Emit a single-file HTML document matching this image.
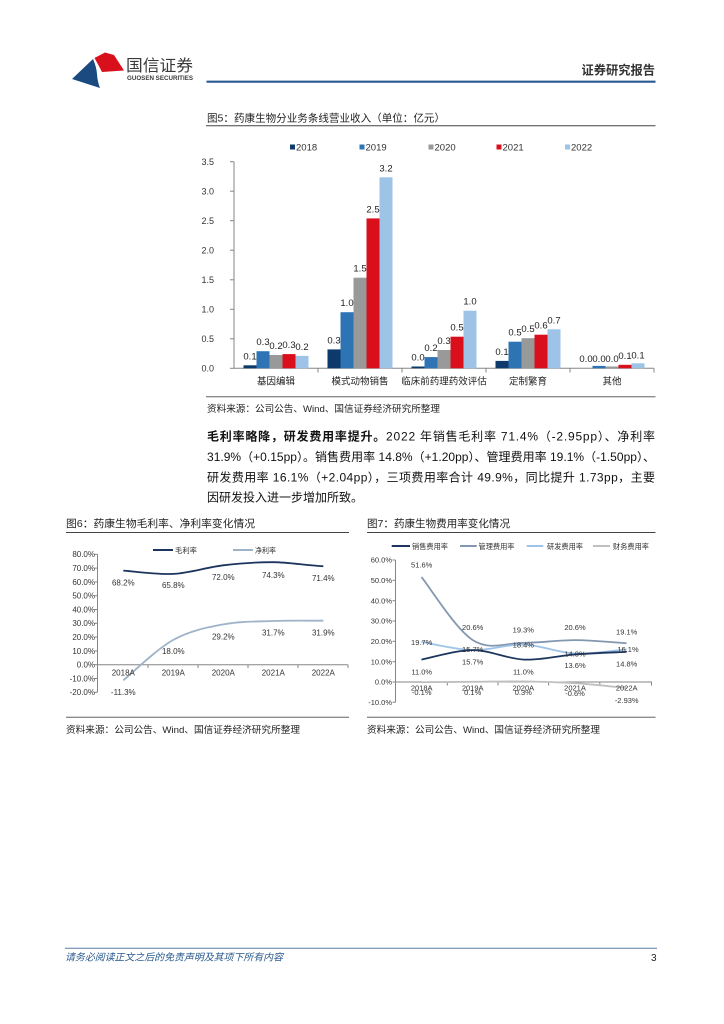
<!DOCTYPE html>
<html>
<head>
<meta charset="utf-8">
<style>
html,body{margin:0;padding:0;background:#fff;}
svg{display:block;}
text{font-family:"Liberation Sans","Noto Sans CJK SC",sans-serif;}
</style>
</head>
<body>
<svg width="724" height="1024" viewBox="0 0 724 1024" xmlns="http://www.w3.org/2000/svg">
<rect width="724" height="1024" fill="#fff"/>

<!-- Header logo -->
<path d="M72,79 L93,59 Q96.5,67 97,74 Q97.5,82 100,88 Z" fill="#1a4a80"/>
<path d="M94.5,58 L105,52.5 L114,55 L124,70.5 L102,72 Q98.5,65 94.5,58 Z" fill="#d8101c"/>
<text x="126" y="71" font-size="16" fill="#3a3a3a" textLength="67" lengthAdjust="spacingAndGlyphs">国信证券</text>
<text x="127" y="80" font-size="6.5" font-weight="bold" fill="#3a3a3a" textLength="66" lengthAdjust="spacingAndGlyphs">GUOSEN SECURITIES</text>
<text x="581.5" y="74.5" font-size="12.5" font-weight="bold" fill="#333" textLength="73.5" lengthAdjust="spacingAndGlyphs">证券研究报告</text>
<line x1="206.5" y1="81.7" x2="655.5" y2="81.7" stroke="#285a8f" stroke-width="2.2"/>

<!-- Figure 5 title -->
<text x="207" y="121.5" font-size="10.5" fill="#222" textLength="238" lengthAdjust="spacingAndGlyphs">图5：药康生物分业务条线营业收入（单位：亿元）</text>
<line x1="206" y1="125.7" x2="655.5" y2="125.7" stroke="#444" stroke-width="1"/>

<!-- Figure 5 legend -->
<g font-size="9.5" fill="#333">
<rect x="290" y="144.5" width="5" height="5" fill="#0e3a6b"/><text x="296" y="150.5">2018</text>
<rect x="359.5" y="144.5" width="5" height="5" fill="#2e74b5"/><text x="365.5" y="150.5">2019</text>
<rect x="428.5" y="144.5" width="5" height="5" fill="#999"/><text x="434.5" y="150.5">2020</text>
<rect x="496.5" y="144.5" width="5" height="5" fill="#d9101c"/><text x="502.5" y="150.5">2021</text>
<rect x="565" y="144.5" width="5" height="5" fill="#9dc3e6"/><text x="571" y="150.5">2022</text>
</g>

<!-- Figure 5 axes -->
<g stroke="#868686" stroke-width="1">
<line x1="234" y1="161.7" x2="234" y2="368.3"/>
<line x1="234" y1="368.3" x2="654" y2="368.3"/>
<line x1="230" y1="161.7" x2="234" y2="161.7"/>
<line x1="230" y1="191.2" x2="234" y2="191.2"/>
<line x1="230" y1="220.7" x2="234" y2="220.7"/>
<line x1="230" y1="250.2" x2="234" y2="250.2"/>
<line x1="230" y1="279.8" x2="234" y2="279.8"/>
<line x1="230" y1="309.3" x2="234" y2="309.3"/>
<line x1="230" y1="338.8" x2="234" y2="338.8"/>
<line x1="230" y1="368.3" x2="234" y2="368.3"/>
<line x1="318" y1="368.3" x2="318" y2="372.5"/>
<line x1="402" y1="368.3" x2="402" y2="372.5"/>
<line x1="486" y1="368.3" x2="486" y2="372.5"/>
<line x1="570" y1="368.3" x2="570" y2="372.5"/>
<line x1="654" y1="368.3" x2="654" y2="372.5"/>
</g>
<g font-size="9" fill="#333" text-anchor="end">
<text x="214" y="165">3.5</text>
<text x="214" y="194.5">3.0</text>
<text x="214" y="224">2.5</text>
<text x="214" y="253.5">2.0</text>
<text x="214" y="283">1.5</text>
<text x="214" y="312.6">1.0</text>
<text x="214" y="342.1">0.5</text>
<text x="214" y="371.6">0.0</text>
</g>

<!-- Figure 5 bars -->
<g>
<rect x="243.5" y="365.3" width="13" height="3" fill="#0e3a6b"/>
<rect x="256.5" y="351.2" width="13" height="17.1" fill="#2e74b5"/>
<rect x="269.5" y="355.0" width="13" height="13.3" fill="#999"/>
<rect x="282.5" y="354.1" width="13" height="14.2" fill="#d9101c"/>
<rect x="295.5" y="355.9" width="13" height="12.4" fill="#9dc3e6"/>

<rect x="327.5" y="349.4" width="13" height="18.9" fill="#0e3a6b"/>
<rect x="340.5" y="312.2" width="13" height="56.1" fill="#2e74b5"/>
<rect x="353.5" y="277.7" width="13" height="90.6" fill="#999"/>
<rect x="366.5" y="218.4" width="13" height="149.9" fill="#d9101c"/>
<rect x="379.5" y="177.3" width="13" height="191.0" fill="#9dc3e6"/>

<rect x="411.5" y="366.5" width="13" height="1.8" fill="#0e3a6b"/>
<rect x="424.5" y="357.1" width="13" height="11.2" fill="#2e74b5"/>
<rect x="437.5" y="350.0" width="13" height="18.3" fill="#999"/>
<rect x="450.5" y="336.7" width="13" height="31.6" fill="#d9101c"/>
<rect x="463.5" y="310.7" width="13" height="57.6" fill="#9dc3e6"/>

<rect x="495.5" y="360.9" width="13" height="7.4" fill="#0e3a6b"/>
<rect x="508.5" y="341.7" width="13" height="26.6" fill="#2e74b5"/>
<rect x="521.5" y="338.2" width="13" height="30.1" fill="#999"/>
<rect x="534.5" y="334.7" width="13" height="33.6" fill="#d9101c"/>
<rect x="547.5" y="329.3" width="13" height="39.0" fill="#9dc3e6"/>

<rect x="592.5" y="365.9" width="13" height="2.4" fill="#2e74b5"/>
<rect x="605.5" y="366.5" width="13" height="1.8" fill="#999"/>
<rect x="618.5" y="364.8" width="13" height="3.5" fill="#d9101c"/>
<rect x="631.5" y="363.3" width="13" height="5.0" fill="#9dc3e6"/>
</g>
<g font-size="9.5" fill="#222" text-anchor="middle">
<text x="250" y="359.3">0.1</text>
<text x="263" y="345.2">0.3</text>
<text x="276" y="349">0.2</text>
<text x="289" y="348.1">0.3</text>
<text x="302" y="349.9">0.2</text>
<text x="334" y="343.4">0.3</text>
<text x="347" y="306.2">1.0</text>
<text x="360" y="271.7">1.5</text>
<text x="373" y="212.4">2.5</text>
<text x="386" y="171.3">3.2</text>
<text x="418" y="360.5">0.0</text>
<text x="431" y="351.1">0.2</text>
<text x="444" y="344">0.3</text>
<text x="457" y="330.7">0.5</text>
<text x="470" y="304.7">1.0</text>
<text x="502" y="354.9">0.1</text>
<text x="515" y="335.7">0.5</text>
<text x="528" y="332.2">0.5</text>
<text x="541" y="328.7">0.6</text>
<text x="554" y="323.3">0.7</text>
<text x="586" y="361.8">0.0</text>
<text x="599" y="361.8">0.0</text>
<text x="612" y="361.8">0.0</text>
<text x="625" y="359">0.1</text>
<text x="638" y="358.3">0.1</text>
</g>
<g font-size="9.5" fill="#222" text-anchor="middle">
<text x="276" y="384.5">基因编辑</text>
<text x="360" y="384.5">模式动物销售</text>
<text x="444" y="384.5">临床前药理药效评估</text>
<text x="528" y="384.5">定制繁育</text>
<text x="612" y="384.5">其他</text>
</g>
<line x1="206" y1="396.7" x2="655.5" y2="396.7" stroke="#8c8c8c" stroke-width="1.3"/>
<text x="207" y="412" font-size="9.5" fill="#222" textLength="233" lengthAdjust="spacingAndGlyphs">资料来源：公司公告、Wind、国信证券经济研究所整理</text>

<!-- Paragraph -->
<g font-size="12" fill="#111">
<text x="207" y="440.5" textLength="448" lengthAdjust="spacing"><tspan font-weight="bold">毛利率略降，研发费用率提升。</tspan>2022 年销售毛利率 71.4%（-2.95pp）、净利率</text>
<text x="207" y="461" textLength="448" lengthAdjust="spacing">31.9%（+0.15pp）。销售费用率 14.8%（+1.20pp）、管理费用率 19.1%（-1.50pp）、</text>
<text x="207" y="481.5" textLength="448" lengthAdjust="spacing">研发费用率 16.1%（+2.04pp），三项费用率合计 49.9%，同比提升 1.73pp，主要</text>
<text x="207" y="501.5">因研发投入进一步增加所致。</text>
</g>

<!-- Figure 6 -->
<text x="66" y="527" font-size="10.5" fill="#222" textLength="189" lengthAdjust="spacingAndGlyphs">图6：药康生物毛利率、净利率变化情况</text>
<line x1="66" y1="532.5" x2="349" y2="532.5" stroke="#444" stroke-width="1"/>
<line x1="153" y1="550" x2="173" y2="550" stroke="#1c355e" stroke-width="2"/>
<text x="175" y="553" font-size="7.5" fill="#333" textLength="22" lengthAdjust="spacingAndGlyphs">毛利率</text>
<line x1="233" y1="550" x2="253" y2="550" stroke="#9fb3c8" stroke-width="2"/>
<text x="255" y="553" font-size="7.5" fill="#333" textLength="21" lengthAdjust="spacingAndGlyphs">净利率</text>

<g stroke="#868686" stroke-width="1">
<line x1="97.5" y1="554.3" x2="97.5" y2="692.3"/>
<line x1="97.5" y1="664.7" x2="348" y2="664.7"/>
<line x1="94.5" y1="554.3" x2="97.5" y2="554.3"/>
<line x1="94.5" y1="568.1" x2="97.5" y2="568.1"/>
<line x1="94.5" y1="581.9" x2="97.5" y2="581.9"/>
<line x1="94.5" y1="595.7" x2="97.5" y2="595.7"/>
<line x1="94.5" y1="609.5" x2="97.5" y2="609.5"/>
<line x1="94.5" y1="623.3" x2="97.5" y2="623.3"/>
<line x1="94.5" y1="637.1" x2="97.5" y2="637.1"/>
<line x1="94.5" y1="650.9" x2="97.5" y2="650.9"/>
<line x1="94.5" y1="664.7" x2="97.5" y2="664.7"/>
<line x1="94.5" y1="678.5" x2="97.5" y2="678.5"/>
<line x1="94.5" y1="692.3" x2="97.5" y2="692.3"/>
<line x1="148" y1="664.7" x2="148" y2="668"/>
<line x1="198" y1="664.7" x2="198" y2="668"/>
<line x1="248" y1="664.7" x2="248" y2="668"/>
<line x1="298" y1="664.7" x2="298" y2="668"/>
<line x1="348" y1="664.7" x2="348" y2="668"/>
</g>
<g font-size="8" fill="#333" text-anchor="end">
<text x="95" y="557.2">80.0%</text>
<text x="95" y="571">70.0%</text>
<text x="95" y="584.8">60.0%</text>
<text x="95" y="598.6">50.0%</text>
<text x="95" y="612.4">40.0%</text>
<text x="95" y="626.2">30.0%</text>
<text x="95" y="640">20.0%</text>
<text x="95" y="653.8">10.0%</text>
<text x="95" y="667.6">0.0%</text>
<text x="95" y="681.4">-10.0%</text>
<text x="95" y="695.2">-20.0%</text>
</g>
<path d="M123.3,570.6 C131.6,571.15 156.6,574.8 173.3,573.9 C190,573 206.6,567.25 223.3,565.3 C240,563.35 256.6,562.05 273.3,562.2 C290,562.35 306.6,565.53 323.3,566.2" fill="none" stroke="#1c355e" stroke-width="1.8"/>
<path d="M123.3,680.3 C131.6,673.57 156.6,649.2 173.3,639.9 C190,630.58 206.6,627.55 223.3,624.4 C240,621.25 256.6,621.62 273.3,621.0 C290,620.38 306.6,620.75 323.3,620.7" fill="none" stroke="#9fb3c8" stroke-width="1.8"/>
<g font-size="8" fill="#333" text-anchor="middle">
<text x="123.3" y="585.5">68.2%</text>
<text x="173.3" y="587.8">65.8%</text>
<text x="223.3" y="580.1">72.0%</text>
<text x="273.3" y="577.8">74.3%</text>
<text x="323.3" y="581.1">71.4%</text>
<text x="123.3" y="695.1">-11.3%</text>
<text x="173.3" y="653.8">18.0%</text>
<text x="223.3" y="639.5">29.2%</text>
<text x="273.3" y="635.5">31.7%</text>
<text x="323.3" y="635.5">31.9%</text>
<text x="123.3" y="675.5">2018A</text>
<text x="173.3" y="675.5">2019A</text>
<text x="223.3" y="675.5">2020A</text>
<text x="273.3" y="675.5">2021A</text>
<text x="323.3" y="675.5">2022A</text>
</g>
<line x1="66" y1="717.3" x2="349" y2="717.3" stroke="#8c8c8c" stroke-width="1.3"/>
<text x="66" y="733" font-size="9.5" fill="#222" textLength="234" lengthAdjust="spacingAndGlyphs">资料来源：公司公告、Wind、国信证券经济研究所整理</text>

<!-- Figure 7 -->
<text x="367" y="527" font-size="10.5" fill="#222" textLength="143" lengthAdjust="spacingAndGlyphs">图7：药康生物费用率变化情况</text>
<line x1="367" y1="532.5" x2="655.5" y2="532.5" stroke="#444" stroke-width="1"/>
<g font-size="7.5" fill="#333">
<line x1="391.7" y1="546" x2="410" y2="546" stroke="#1c355e" stroke-width="2"/>
<text x="412" y="549" textLength="36" lengthAdjust="spacingAndGlyphs">销售费用率</text>
<line x1="460" y1="546" x2="476.7" y2="546" stroke="#8497b0" stroke-width="2"/>
<text x="478.5" y="549" textLength="36" lengthAdjust="spacingAndGlyphs">管理费用率</text>
<line x1="526.7" y1="546" x2="543.3" y2="546" stroke="#9dc3e6" stroke-width="2"/>
<text x="547" y="549" textLength="36" lengthAdjust="spacingAndGlyphs">研发费用率</text>
<line x1="593" y1="546" x2="610" y2="546" stroke="#c0c0c0" stroke-width="2"/>
<text x="613" y="549" textLength="36" lengthAdjust="spacingAndGlyphs">财务费用率</text>
</g>
<g stroke="#868686" stroke-width="1">
<line x1="395.5" y1="560" x2="395.5" y2="702.3"/>
<line x1="395.5" y1="682" x2="652" y2="682"/>
<line x1="392.5" y1="560" x2="395.5" y2="560"/>
<line x1="392.5" y1="580.3" x2="395.5" y2="580.3"/>
<line x1="392.5" y1="600.7" x2="395.5" y2="600.7"/>
<line x1="392.5" y1="621" x2="395.5" y2="621"/>
<line x1="392.5" y1="641.3" x2="395.5" y2="641.3"/>
<line x1="392.5" y1="661.7" x2="395.5" y2="661.7"/>
<line x1="392.5" y1="682" x2="395.5" y2="682"/>
<line x1="392.5" y1="702.3" x2="395.5" y2="702.3"/>
<line x1="447.3" y1="682" x2="447.3" y2="685.5"/>
<line x1="498" y1="682" x2="498" y2="685.5"/>
<line x1="548.6" y1="682" x2="548.6" y2="685.5"/>
<line x1="599.8" y1="682" x2="599.8" y2="685.5"/>
<line x1="651.5" y1="682" x2="651.5" y2="685.5"/>
</g>
<g font-size="7.5" fill="#333" text-anchor="end">
<text x="392" y="562.7">60.0%</text>
<text x="392" y="583">50.0%</text>
<text x="392" y="603.4">40.0%</text>
<text x="392" y="623.7">30.0%</text>
<text x="392" y="644">20.0%</text>
<text x="392" y="664.4">10.0%</text>
<text x="392" y="684.7">0.0%</text>
<text x="392" y="705">-10.0%</text>
</g>
<!-- 财务 -->
<path d="M421.5,682.2 C430,682.1 455.7,681.9 472.8,681.8 C489.9,681.7 506.9,681.2 524,681.4 C541,681.6 558,682.2 575.3,683.2 C592,684.2 618,687.2 626.5,688" fill="none" stroke="#c0c0c0" stroke-width="1.8"/>
<!-- 管理 -->
<path d="M421.5,577.1 C430.05,587.6 455.7,629.15 472.8,640.1 C489.9,651.05 506.9,642.8 524,642.8 C541.1,642.8 558.2,640.03 575.3,640.1 C592.4,640.17 618,642.68 626.5,643.2" fill="none" stroke="#8497b0" stroke-width="1.8"/>
<!-- 研发 -->
<path d="M421.5,641.95 C430.05,643.31 455.7,649.66 472.8,650.1 C489.9,650.54 506.9,644.03 524,644.6 C541.1,645.17 558.2,652.72 575.3,653.5 C592.4,654.28 618,650 626.5,649.3" fill="none" stroke="#9dc3e6" stroke-width="1.8"/>
<!-- 销售 -->
<path d="M421.5,659.6 C430.05,658.02 455.7,650.1 472.8,650.1 C489.9,650.1 506.9,658.88 524,659.6 C541.1,660.32 558.2,655.68 575.3,654.4 C592.4,653.12 618,652.32 626.5,651.9" fill="none" stroke="#1c355e" stroke-width="1.8"/>
<g font-size="7.5" fill="#333" text-anchor="middle">
<text x="421.7" y="567.7">51.6%</text>
<text x="472.7" y="630">20.6%</text>
<text x="523.3" y="632.7">19.3%</text>
<text x="575" y="630">20.6%</text>
<text x="626.7" y="634.4">19.1%</text>
<text x="421.7" y="645">19.7%</text>
<text x="472.7" y="652">15.7%</text>
<text x="523.3" y="647.7">18.4%</text>
<text x="575" y="656.5">14.0%</text>
<text x="628" y="652">16.1%</text>
<text x="421.7" y="674.4">11.0%</text>
<text x="472.7" y="664.7">15.7%</text>
<text x="523.3" y="674.4">11.0%</text>
<text x="575" y="668">13.6%</text>
<text x="626.7" y="666.3">14.8%</text>
<text x="421.7" y="690.5">2018A</text>
<text x="472.7" y="690.5">2019A</text>
<text x="523.3" y="690.5">2020A</text>
<text x="575" y="690.5">2021A</text>
<text x="626.7" y="690.5">2022A</text>
<text x="421.7" y="695">-0.1%</text>
<text x="472.7" y="695">0.1%</text>
<text x="523.3" y="695">0.3%</text>
<text x="575" y="696">-0.6%</text>
<text x="626.7" y="703">-2.93%</text>
</g>
<line x1="367" y1="717.3" x2="655.5" y2="717.3" stroke="#8c8c8c" stroke-width="1.3"/>
<text x="367" y="733" font-size="9.5" fill="#222" textLength="233" lengthAdjust="spacingAndGlyphs">资料来源：公司公告、Wind、国信证券经济研究所整理</text>

<!-- Footer -->
<line x1="65" y1="948.3" x2="657" y2="948.3" stroke="#5a7fa6" stroke-width="1"/>
<text x="65" y="960.5" font-size="9.8" font-style="italic" fill="#2a5a8c" textLength="218" lengthAdjust="spacingAndGlyphs">请务必阅读正文之后的免责声明及其项下所有内容</text>
<text x="651" y="961" font-size="10" fill="#222">3</text>
</svg>
</body>
</html>
